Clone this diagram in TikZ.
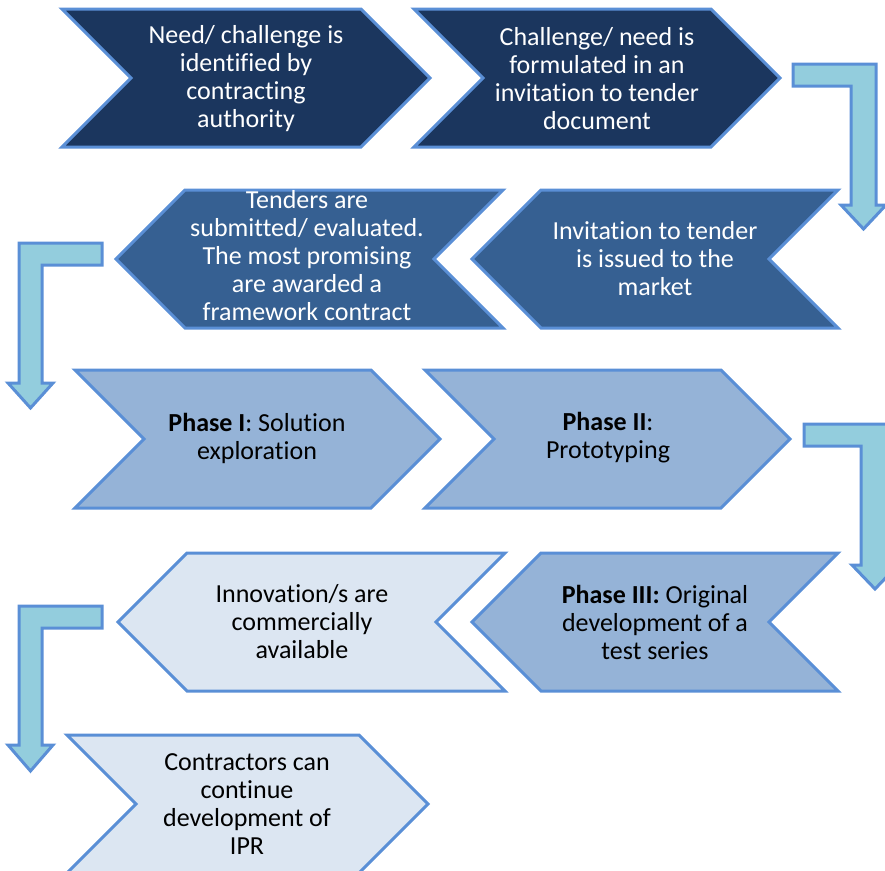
\documentclass[tikz,border=0pt]{standalone}
\usepackage{fontspec}
\setmainfont{Carlito}[Ligatures=NoCommon]
\definecolor{navy}{HTML}{1B365E}
\definecolor{midblue}{HTML}{366092}
\definecolor{softblue}{HTML}{95B3D7}
\definecolor{paleblue}{HTML}{DCE6F2}
\definecolor{edgeblue}{HTML}{5A8FD6}
\definecolor{tealfill}{HTML}{93CDDD}
\tikzset{
  chev/.style={draw=edgeblue, line width=3pt, line join=miter},
  bentarrow/.style={draw=edgeblue, fill=tealfill, line width=3pt, line join=miter},
  chevtext/.style={align=center, font=\fontsize{26}{28}\selectfont, inner sep=0pt},
}
% right-pointing chevron: left x, tip x, top y, fill colour
\newcommand{\chevR}[4]{%
  \draw[chev, fill=#4] (#1,#3) -- (#2-69,#3) -- (#2,#3+69) -- (#2-69,#3+138)
    -- (#1,#3+138) -- (#1+69,#3+69) -- cycle;}
% left-pointing chevron: tip x, right x, top y, fill colour
\newcommand{\chevL}[4]{%
  \draw[chev, fill=#4] (#1+69,#3) -- (#2,#3) -- (#2-69,#3+69) -- (#2,#3+138)
    -- (#1+69,#3+138) -- (#1,#3+69) -- cycle;}
\begin{document}
\begin{tikzpicture}[x=1pt, y=-1pt]
\useasboundingbox (0,0) rectangle (885,870);

% row 1
\chevR{62}{430}{9}{navy}
\chevR{414}{780}{9}{navy}
\node[chevtext, text=white] (need) at (246,79) {Need/ challenge is\\identified by\\contracting\\authority};
\node[chevtext, text=white] (formulate) at (597,79) {Challenge/ need is\\formulated in an\\invitation to tender\\document};

% bent arrow down to row 2
\draw[bentarrow] (793,64) -- (876,64) -- (876,205) -- (886,205) -- (863.5,229)
  -- (841,205) -- (851,205) -- (851,86) -- (793,86) -- cycle;

% row 2
\chevL{472}{838}{190}{midblue}
\chevL{116}{503}{190}{midblue}
\node[chevtext, text=white] (issue) at (655,259) {Invitation to tender\\is issued to the\\market};
\node[chevtext, text=white] (tenders) at (307,256) {Tenders are\\submitted/ evaluated.\\The most promising\\are awarded a\\framework contract};

% bent arrow down to row 3
\draw[bentarrow] (102,243) -- (19,243) -- (19,383) -- (8,383) -- (30.5,408)
  -- (53,383) -- (42,383) -- (42,265) -- (102,265) -- cycle;

% row 3
\chevR{75}{440}{370}{softblue}
\chevR{425}{790}{370}{softblue}
\node[chevtext] (phase1) at (257,438) {\textbf{Phase I}: Solution\\exploration};
\node[chevtext] (phase2) at (608,438) {\textbf{Phase II}:\\Prototyping};

% bent arrow down to row 4
\draw[bentarrow] (804,424) -- (889,424) -- (889,565) -- (898,565) -- (875,589)
  -- (852,565) -- (861,565) -- (861,446) -- (804,446) -- cycle;

% row 4
\chevL{472}{838}{553}{softblue}
\chevL{118}{505}{553}{paleblue}
\node[chevtext] (phase3) at (655,622) {\textbf{Phase III:} Original\\development of a\\test series};
\node[chevtext] (market) at (302,622) {Innovation/s are\\commercially\\available};

% bent arrow down to row 5
\draw[bentarrow] (102,606) -- (19,606) -- (19,745) -- (8,745) -- (30.5,771)
  -- (53,745) -- (42,745) -- (42,628) -- (102,628) -- cycle;

% row 5
\chevR{67}{428}{735}{paleblue}
\node[chevtext] (ipr) at (247,804) {Contractors can\\continue\\development of\\IPR};
\end{tikzpicture}
\end{document}
